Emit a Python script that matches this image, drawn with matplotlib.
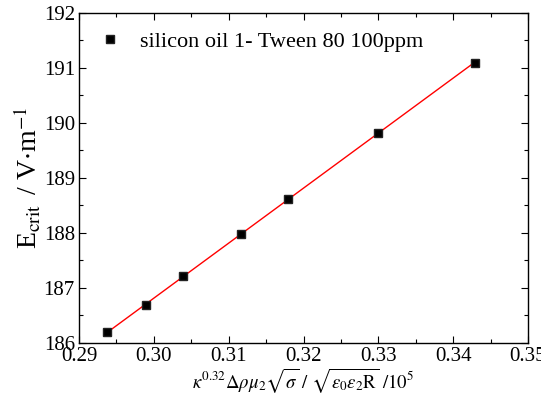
import numpy as np
import matplotlib
matplotlib.use("Agg")
import matplotlib.pyplot as plt
from matplotlib.ticker import MultipleLocator

plt.rcParams['font.family'] = ['Liberation Serif', 'DejaVu Serif']
plt.rcParams['mathtext.fontset'] = 'stix'

# measured points
x_vals = [0.2938, 0.2990, 0.3039, 0.3117, 0.3179, 0.3300, 0.3429]
e_crit = [186.19, 186.69, 187.22, 187.98, 188.62, 189.82, 191.09]

fig = plt.figure(figsize=(5.41, 4.01), dpi=100)
ax = fig.add_axes([0.146, 0.145, 0.830, 0.823])

# linear fit through the points
k, b = np.polyfit(x_vals, e_crit, 1)
xf = np.array([x_vals[0], x_vals[-1]])
ax.plot(xf, k * xf + b, color='red', lw=1.0, zorder=2)
ax.plot(x_vals, e_crit, ls='none', marker='s', ms=6, color='black',
        mec='#222222', label='silicon oil 1- Tween 80 100ppm', zorder=3)

ax.set_xlim(0.29, 0.35)
ax.set_ylim(186, 192)
ax.xaxis.set_major_locator(MultipleLocator(0.01))
ax.xaxis.set_minor_locator(MultipleLocator(0.005))
ax.yaxis.set_major_locator(MultipleLocator(1))
ax.yaxis.set_minor_locator(MultipleLocator(0.5))
ax.xaxis.set_major_formatter(plt.FormatStrFormatter('%.2f'))
ax.tick_params(which='both', direction='in', top=True, right=True, labelsize=15, width=0.8)
ax.tick_params(which='major', length=5, pad=3)
ax.tick_params(which='minor', length=3)
for s in ax.spines.values():
    s.set_linewidth(1.0)

ax.set_xlabel(r'$\kappa^{0.32}\Delta\rho\mu_2\sqrt{\sigma}\ /\ \sqrt{\varepsilon_0\varepsilon_2\mathrm{R}}\ /10^5$',
              fontsize=13.5, labelpad=0)
ax.set_ylabel(r'E$_{\rm crit}$ $\,$/ V$\cdot$m$^{-1}$', fontsize=20, labelpad=0)

ax.legend(loc='upper left', frameon=False, fontsize=16, handlelength=1.1,
          handletextpad=0.8, borderaxespad=0.45, markerscale=0.9)

fig.savefig('out.png', dpi=100)
